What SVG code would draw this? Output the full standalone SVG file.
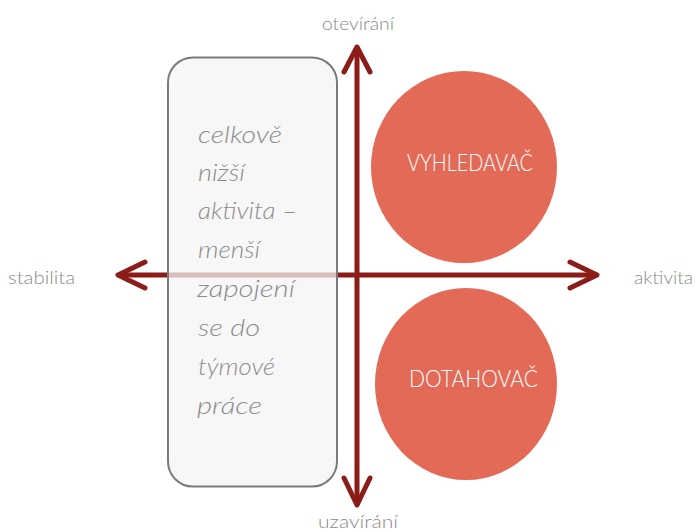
<svg xmlns="http://www.w3.org/2000/svg" width="695" height="532" viewBox="0 0 695 532">
  <style>
    .axis { stroke: #8c1c17; stroke-width: 5; fill: none; stroke-linecap: round; stroke-linejoin: round; }
    .label { font-family: Lato, "Open Sans", sans-serif; font-weight: 300; font-size: 18px; fill: #8a8a8a; }
    .note { font-family: Lato, "Open Sans", sans-serif; font-weight: 300; font-style: italic; font-size: 24px; fill: #8c8c8c; }
    .role { fill: #e26a57; }
    .role-text { font-family: Lato, "Open Sans", sans-serif; font-weight: 300; font-size: 22.5px; fill: #ffffff; }
  </style>
  <rect width="695" height="532" fill="#ffffff"/>

  <!-- axes with open arrowheads -->
  <g id="connectors">
    <line class="axis" x1="120" y1="275" x2="596" y2="275"/>
    <polyline class="axis" points="145,262 118,275 145,288"/>
    <polyline class="axis" points="570,262 597,275 570,288"/>
    <line class="axis" x1="357" y1="50" x2="357" y2="504"/>
    <polyline class="axis" points="344,72 357,47 370,72"/>
    <polyline class="axis" points="344,478 357,505 370,478"/>
  </g>

  <!-- axis labels -->
  <g id="axis-labels">
    <text class="label" x="322" y="30" textLength="72" lengthAdjust="spacingAndGlyphs">otevírání</text>
    <text class="label" x="318" y="528" textLength="80" lengthAdjust="spacingAndGlyphs">uzavírání</text>
    <text class="label" x="8" y="284" textLength="67" lengthAdjust="spacingAndGlyphs">stabilita</text>
    <text class="label" x="634" y="284" textLength="59" lengthAdjust="spacingAndGlyphs">aktivita</text>
  </g>

  <!-- translucent note box over the stability side -->
  <g id="note">
    <rect x="168" y="57.5" width="169" height="429" rx="25" ry="25" fill="#f4f4f4" fill-opacity="0.75" stroke="#7a7a7a" stroke-width="2"/>
    <text class="note" x="198" y="143" textLength="84" lengthAdjust="spacingAndGlyphs">celkově</text>
    <text class="note" x="198" y="181" textLength="47" lengthAdjust="spacingAndGlyphs">nižší</text>
    <text class="note" x="198" y="219" textLength="99" lengthAdjust="spacingAndGlyphs">aktivita –</text>
    <text class="note" x="198" y="258" textLength="62" lengthAdjust="spacingAndGlyphs">menší</text>
    <text class="note" x="197" y="297" textLength="98" lengthAdjust="spacingAndGlyphs">zapojení</text>
    <text class="note" x="198" y="336" textLength="62" lengthAdjust="spacingAndGlyphs">se do</text>
    <text class="note" x="198" y="375" textLength="77" lengthAdjust="spacingAndGlyphs">týmové</text>
    <text class="note" x="197" y="414" textLength="65" lengthAdjust="spacingAndGlyphs">práce</text>
  </g>

  <g id="vyhledavac">
    <ellipse class="role" cx="464" cy="167" rx="93" ry="96"/>
    <text class="role-text" x="407" y="171" textLength="126" lengthAdjust="spacingAndGlyphs">VYHLEDAVAČ</text>
  </g>

  <g id="dotahovac">
    <ellipse class="role" cx="466" cy="384" rx="91" ry="96"/>
    <text class="role-text" x="409" y="387" textLength="129" lengthAdjust="spacingAndGlyphs">DOTAHOVAČ</text>
  </g>
</svg>
